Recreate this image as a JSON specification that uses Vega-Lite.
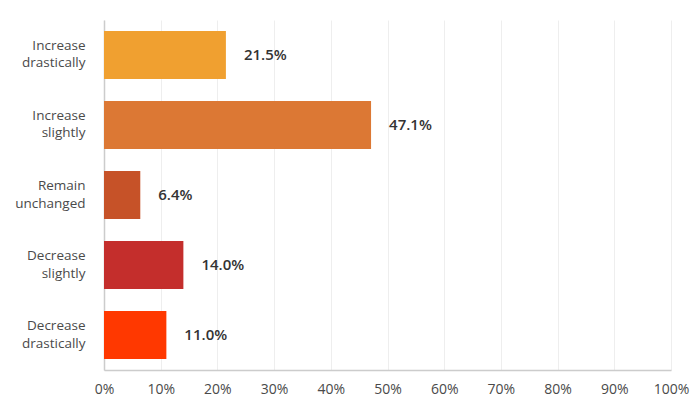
{
  "$schema": "https://vega.github.io/schema/vega-lite/v6.json",
  "autosize": "none",
  "width": 567,
  "height": 350,
  "padding": {"left": 104, "top": 20, "right": 29, "bottom": 39},
  "background": "white",
  "data": {
    "values": [
      {"answer": "Increase drastically", "share": 0.215, "color": "#F0A030"},
      {"answer": "Increase slightly", "share": 0.471, "color": "#DC7834"},
      {"answer": "Remain unchanged", "share": 0.064, "color": "#C65228"},
      {"answer": "Decrease slightly", "share": 0.140, "color": "#C42E2C"},
      {"answer": "Decrease drastically", "share": 0.110, "color": "#FF3800"}
    ]
  },
  "config": {
    "view": {"stroke": null},
    "font": "Open Sans"
  },
  "encoding": {
    "y": {
      "field": "answer",
      "type": "nominal",
      "sort": null,
      "scale": {"paddingInner": 0.3143, "paddingOuter": 0.157},
      "axis": {
        "title": null,
        "labelExpr": "split(datum.label, ' ')",
        "labelLineHeight": 17.5,
        "labelFontSize": 13.5,
        "labelColor": "#4A4A4A",
        "labelPadding": 19,
        "labelOffset": -9,
        "ticks": false,
        "domainColor": "#CCCCCC",
        "domainWidth": 1.5,
        "grid": false
      }
    },
    "x": {
      "field": "share",
      "type": "quantitative",
      "scale": {"domain": [0, 1], "nice": false},
      "axis": {
        "title": null,
        "format": ".0%",
        "values": [0, 0.1, 0.2, 0.3, 0.4, 0.5, 0.6, 0.7, 0.8, 0.9, 1],
        "labelFontSize": 14,
        "labelColor": "#4A4A4A",
        "labelPadding": 12,
        "labelFlush": false,
        "ticks": false,
        "domainColor": "#CCCCCC",
        "domainWidth": 1.5,
        "gridColor": "#EEEEEE",
        "gridWidth": 1,
        "encode": {
          "labels": {"update": {"dx": {"signal": "datum.value == 1 ? -7 : 0"}}}
        }
      }
    }
  },
  "layer": [
    {
      "mark": {"type": "bar"},
      "encoding": {
        "color": {"field": "color", "type": "nominal", "scale": null, "legend": null}
      }
    },
    {
      "mark": {"type": "text", "align": "left", "baseline": "middle", "dx": 18, "fontSize": 15, "fontWeight": 600, "color": "#333333"},
      "encoding": {
        "text": {"field": "share", "type": "quantitative", "format": ".1%"}
      }
    }
  ]
}
